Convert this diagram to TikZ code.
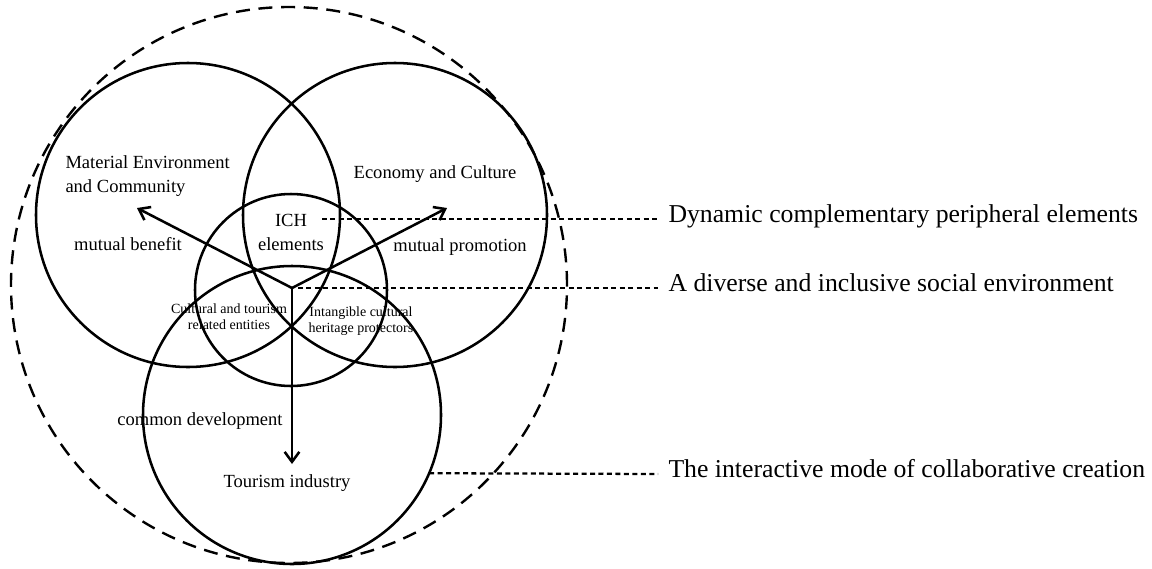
\documentclass[tikz,border=0pt]{standalone}
\usepackage{fontspec}
\setmainfont{Liberation Serif}
\usetikzlibrary{arrows.meta}

\tikzset{every picture/.style={line width=0.75pt}}
\tikzset{
  ring/.style={draw, circle, line width=1.9pt, inner sep=0pt, outer sep=0pt},
  halo/.style={draw, circle, line width=1.8pt, dash pattern=on 10.5pt off 6.5pt, inner sep=0pt},
  guide/.style={line width=1.7pt, dash pattern=on 3.75pt off 2.6pt},
  flow/.style={line width=1.9pt, -{Straight Barb[length=7.5pt,width=11pt]}},
  zone/.style={inner sep=0pt, font=\fontsize{13.9}{18}\selectfont},
  actor/.style={inner sep=0pt, align=center, font=\fontsize{10.5}{12}\selectfont},
  mode/.style={inner ysep=0pt, inner xsep=7.5pt, anchor=mid west, font=\fontsize{19.3}{23}\selectfont},
}

\begin{document}
\begin{tikzpicture}[x=0.75pt,y=0.75pt,yscale=-1,xscale=1]
\useasboundingbox (0,0) rectangle (1152,568);

%Shape: Circle
\node [halo, minimum size=417pt] (whole) at (289,285) {};
%Shape: Circle
\node [ring, minimum size=228pt] (mat) at (188,215) {};
%Shape: Circle
\node [ring, minimum size=228pt] (eco) at (395,215) {};
%Shape: Circle
\node [ring, minimum size=223.5pt] (tour) at (292,415) {};
%Shape: Circle
\node [ring, minimum size=144pt] (ich) at (291,290) {};

%Straight Lines
\coordinate (hub) at (292,288);
\coordinate (matTip) at (137,208);
\coordinate (ecoTip) at (447,208);
\coordinate (tourTip) at (292,464);
\draw [flow] (hub) -- (matTip);
\draw [flow] (hub) -- (ecoTip);
\draw [flow] (hub) -- (tourTip);

% Text Node
\node [zone, anchor=north west, align=left] (matText) at (65,155) {Material Environment\\ and Community};
% Text Node
\node [zone, anchor=base] (ecoText) at (435,178) {Economy and Culture};
% Text Node
\node [zone, anchor=base] (benefit) at (128,250) {mutual benefit};
% Text Node
\node [zone, anchor=base] (promotion) at (460,251) {mutual promotion};
% Text Node
\node [zone, anchor=north, align=center] (ichText) at (291,214) {ICH\\elements};
% Text Node
\node [zone, anchor=base] (common) at (200,425) {common development};
% Text Node
\node [zone, anchor=base] (tourText) at (287,487) {Tourism industry};
% Text Node
\node [actor, anchor=north] (entities) at (229,303) {Cultural and tourism\\related entities};
% Text Node
\node [actor, anchor=north] (keepers) at (361,306) {Intangible cultural\\heritage protectors};

% Text Node
\node [mode] (dynamic) at (658,219) {Dynamic complementary peripheral elements};
% Text Node
\node [mode] (diverse) at (658,288) {A diverse and inclusive social environment};
% Text Node
\node [mode] (interact) at (658,474) {The interactive mode of collaborative creation};

%Straight Lines
\coordinate (ichEnd) at (322,219);
\draw [guide] (ichEnd) -- (dynamic.mid west);
\draw [guide] ([xshift=4.5pt]hub) -- (diverse.mid west);
\draw [guide] (tour.-23) -- (interact.mid west);

\end{tikzpicture}
\end{document}
